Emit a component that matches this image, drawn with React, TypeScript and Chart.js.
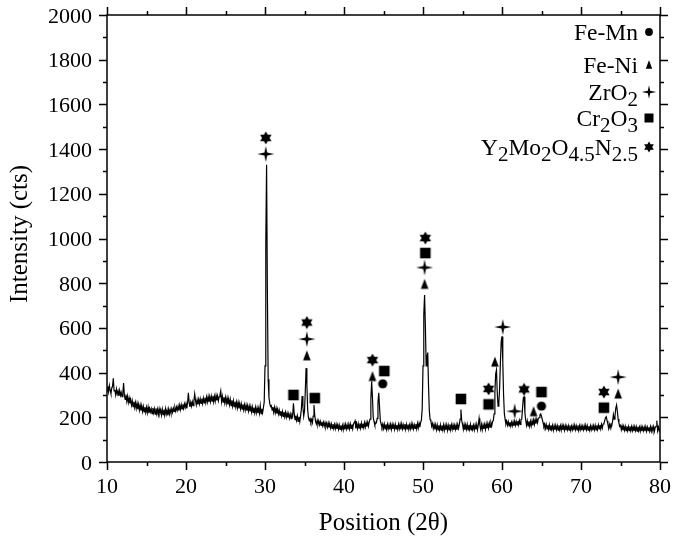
import { useEffect, useRef } from "react";
import { Chart, registerables } from "chart.js";

Chart.register(...registerables);

// XRD scan: 2θ from 10 to 80 in 0.1° steps, intensities (cts)
const scanStart = 10;
const scanStep = 0.1;

const scan10 = [
  318, 338, 314, 342, 322, 306, 330, 340, 375, 318,
  322, 300, 326, 304, 318, 296, 320, 298, 312, 292,
  305, 353, 298, 280, 302, 272, 294, 266, 286, 262,
  280, 254, 274, 248, 270, 244, 266, 240, 262, 236,
  258, 232, 254, 230, 252, 226, 248, 224, 246, 222,
  244, 220, 246, 218, 240, 224, 238, 216, 242, 220,
  238, 214, 240, 216, 236, 212, 238, 218, 234, 210,
  236, 212, 234, 210, 238, 214, 232, 208, 236, 214,
  234, 218, 238, 222, 240, 226, 244, 228, 246, 232,
  250, 230, 254, 234, 256, 238, 258, 240, 260, 244,
];
const scan20 = [
  262, 240, 264, 310, 266, 246, 268, 250, 270, 252,
  274, 305, 276, 256, 278, 258, 280, 260, 282, 262,
  284, 262, 286, 264, 288, 266, 290, 268, 292, 268,
  292, 270, 294, 272, 296, 270, 294, 272, 298, 276,
  296, 274, 292, 300, 318, 270, 294, 268, 290, 264,
  288, 262, 286, 258, 282, 256, 280, 252, 276, 250,
  274, 248, 270, 246, 268, 242, 266, 240, 262, 238,
  260, 236, 258, 234, 256, 232, 254, 230, 252, 228,
  250, 226, 248, 224, 246, 222, 244, 220, 244, 220,
  242, 218, 240, 218, 252, 216, 238, 220, 244, 268,
];
const scan30 = [
  430, 980, 1330, 770, 370, 290, 262, 248, 252, 232,
  246, 222, 244, 220, 240, 216, 236, 214, 232, 210,
  228, 206, 226, 204, 224, 202, 222, 200, 218, 198,
  216, 196, 214, 194, 212, 205, 263, 215, 190, 208,
  186, 206, 182, 202, 180, 205, 235, 295, 245, 205,
  228, 315, 420, 350, 235, 198, 186, 194, 178, 190,
  176, 205, 255, 208, 182, 170, 186, 168, 184, 166,
  182, 164, 180, 162, 178, 160, 176, 158, 174, 156,
  174, 154, 172, 152, 170, 150, 170, 150, 168, 148,
  168, 148, 166, 146, 166, 146, 164, 146, 164, 144,
];
const scan40 = [
  166, 146, 168, 148, 166, 146, 168, 148, 170, 150,
  168, 148, 170, 176, 184, 150, 170, 150, 172, 152,
  172, 152, 174, 154, 172, 154, 176, 156, 176, 158,
  178, 160, 180, 192, 280, 360, 290, 200, 182, 166,
  172, 176, 195, 265, 310, 245, 185, 170, 156, 170,
  150, 170, 148, 168, 146, 168, 148, 166, 146, 168,
  146, 168, 148, 166, 146, 168, 148, 166, 146, 168,
  148, 168, 146, 170, 148, 166, 148, 170, 146, 168,
  148, 168, 146, 166, 148, 170, 146, 168, 148, 166,
  150, 170, 148, 172, 152, 174, 156, 176, 188, 240,
];
const scan50 = [
  430, 660, 747, 610, 430, 470, 490, 340, 230, 190,
  184, 160, 172, 150, 168, 146, 166, 144, 166, 144,
  164, 144, 166, 142, 164, 144, 166, 142, 164, 144,
  166, 142, 164, 144, 168, 144, 166, 146, 166, 144,
  164, 146, 166, 144, 168, 150, 168, 192, 235, 185,
  170, 146, 168, 144, 166, 146, 168, 144, 166, 146,
  168, 144, 166, 146, 164, 144, 166, 146, 168, 144,
  166, 195, 164, 146, 168, 144, 166, 148, 168, 146,
  170, 150, 172, 152, 174, 156, 176, 162, 180, 186,
  215, 310, 395, 412, 310, 250, 265, 330, 450, 540,
];
const scan60 = [
  562, 450, 300, 215, 190, 170, 182, 164, 180, 162,
  178, 160, 178, 162, 180, 162, 182, 164, 182, 166,
  184, 166, 186, 168, 190, 192, 240, 288, 292, 220,
  188, 164, 184, 162, 182, 160, 182, 162, 184, 164,
  188, 168, 190, 172, 192, 176, 196, 198, 210, 215,
  205, 190, 176, 160, 170, 150, 168, 148, 166, 146,
  166, 144, 164, 146, 164, 142, 162, 144, 164, 144,
  162, 142, 164, 144, 162, 142, 164, 144, 162, 142,
  162, 142, 160, 144, 162, 142, 164, 142, 160, 144,
  162, 142, 164, 144, 162, 144, 164, 142, 162, 144,
];
const scan70 = [
  162, 142, 160, 144, 162, 142, 164, 144, 162, 142,
  160, 142, 162, 144, 160, 142, 162, 144, 164, 144,
  164, 146, 166, 148, 166, 148, 168, 152, 170, 172,
  185, 198, 203, 185, 170, 150, 168, 152, 170, 166,
  182, 212, 192, 205, 240, 255, 228, 192, 175, 160,
  164, 144, 162, 142, 160, 142, 160, 140, 160, 140,
  158, 140, 160, 140, 158, 140, 158, 138, 158, 140,
  158, 138, 158, 140, 156, 138, 158, 138, 156, 140,
  156, 138, 158, 138, 156, 140, 156, 138, 158, 138,
  156, 140, 158, 138, 156, 160, 185, 140, 156, 140,
  150,
];

const intensity = [...scan10, ...scan20, ...scan30, ...scan40, ...scan50, ...scan60, ...scan70];
const positions = intensity.map((_, i) => Math.round((scanStart + i * scanStep) * 10) / 10);

// Phase markers placed above the peaks (2θ, intensity)
const feMnMarks = [
  { x: 44.9, y: 350 },
  { x: 65.0, y: 250 },
];
const feNiMarks = [
  { x: 35.3, y: 475 },
  { x: 43.6, y: 382 },
  { x: 50.2, y: 795 },
  { x: 59.1, y: 447 },
  { x: 64.0, y: 225 },
  { x: 74.7, y: 304 },
];
const zrO2Marks = [
  { x: 30.1, y: 1378 },
  { x: 35.3, y: 550 },
  { x: 50.2, y: 870 },
  { x: 60.1, y: 604 },
  { x: 61.6, y: 227 },
  { x: 74.7, y: 380 },
];
const cr2O3Marks = [
  { x: 33.6, y: 300 },
  { x: 36.3, y: 286 },
  { x: 45.1, y: 407 },
  { x: 50.3, y: 935 },
  { x: 54.8, y: 282 },
  { x: 58.3, y: 258 },
  { x: 65.0, y: 313 },
  { x: 72.9, y: 243 },
];
const yMoONMarks = [
  { x: 30.1, y: 1450 },
  { x: 35.3, y: 624 },
  { x: 43.6, y: 456 },
  { x: 50.3, y: 1002 },
  { x: 58.3, y: 327 },
  { x: 62.8, y: 325 },
  { x: 72.9, y: 313 },
];

const xTicks = [10, 20, 30, 40, 50, 60, 70, 80];
const xMinorTicks = [15, 25, 35, 45, 55, 65, 75];
const yTicks = [0, 200, 400, 600, 800, 1000, 1200, 1400, 1600, 1800, 2000];
const yMinorTicks = [100, 300, 500, 700, 900, 1100, 1300, 1500, 1700, 1900];

type Part = { t: string; sub?: boolean };
const legendItems: { parts: Part[]; shape: string }[] = [
  { parts: [{ t: "Fe-Mn" }], shape: "circle" },
  { parts: [{ t: "Fe-Ni" }], shape: "triangle" },
  { parts: [{ t: "ZrO" }, { t: "2", sub: true }], shape: "star4" },
  { parts: [{ t: "Cr" }, { t: "2", sub: true }, { t: "O" }, { t: "3", sub: true }], shape: "square" },
  {
    parts: [
      { t: "Y" }, { t: "2", sub: true }, { t: "Mo" }, { t: "2", sub: true },
      { t: "O" }, { t: "4.5", sub: true }, { t: "N" }, { t: "2.5", sub: true },
    ],
    shape: "star6",
  },
];

const FONT = '"Liberation Serif", "Times New Roman", serif';

function drawShape(ctx: CanvasRenderingContext2D, shape: string, cx: number, cy: number, s: number) {
  ctx.save();
  ctx.fillStyle = "#000";
  ctx.beginPath();
  if (shape === "circle") {
    ctx.arc(cx, cy, 4.6 * s, 0, Math.PI * 2);
  } else if (shape === "triangle") {
    ctx.moveTo(cx, cy - 5.5 * s);
    ctx.lineTo(cx + 3.8 * s, cy + 4.5 * s);
    ctx.lineTo(cx - 3.8 * s, cy + 4.5 * s);
    ctx.closePath();
  } else if (shape === "square") {
    const h = 5.3 * s;
    ctx.rect(cx - h, cy - h, 2 * h, 2 * h);
  } else if (shape === "star4") {
    const rx = 8.5 * s, ry = 8 * s, i = 1.4 * s;
    ctx.moveTo(cx, cy - ry);
    ctx.lineTo(cx + i, cy - i);
    ctx.lineTo(cx + rx, cy);
    ctx.lineTo(cx + i, cy + i);
    ctx.lineTo(cx, cy + ry);
    ctx.lineTo(cx - i, cy + i);
    ctx.lineTo(cx - rx, cy);
    ctx.lineTo(cx - i, cy - i);
    ctx.closePath();
  } else if (shape === "star6") {
    const r = 6.6 * s;
    for (let k = 0; k < 2; k++) {
      const off = k === 0 ? -Math.PI / 2 : Math.PI / 2;
      for (let j = 0; j < 3; j++) {
        const a = off + (j * 2 * Math.PI) / 3;
        const px = cx + r * Math.cos(a);
        const py = cy + r * Math.sin(a);
        if (j === 0) ctx.moveTo(px, py);
        else ctx.lineTo(px, py);
      }
      ctx.closePath();
    }
  }
  ctx.fill("nonzero");
  ctx.restore();
}

function makeMarker(shape: string, s: number): HTMLCanvasElement {
  const c = document.createElement("canvas");
  c.width = 22;
  c.height = 22;
  const ctx = c.getContext("2d")!;
  drawShape(ctx, shape, 11, 11, s);
  return c;
}

const framePlugin = {
  id: "xrdFrame",
  afterDraw(chart: any) {
    const { ctx, chartArea } = chart;
    const { left, right, top, bottom } = chartArea;
    const xs = chart.scales.x;
    const ys = chart.scales.y;
    ctx.save();
    ctx.strokeStyle = "#000";
    ctx.fillStyle = "#000";
    ctx.lineWidth = 1.5;
    ctx.strokeRect(left, top, right - left, bottom - top);

    const major = 8, minor = 4;
    ctx.beginPath();
    for (const v of xTicks) {
      const px = Math.round(xs.getPixelForValue(v)) + 0.5;
      ctx.moveTo(px, bottom); ctx.lineTo(px, bottom + major);
      ctx.moveTo(px, top); ctx.lineTo(px, top - major);
    }
    for (const v of xMinorTicks) {
      const px = Math.round(xs.getPixelForValue(v)) + 0.5;
      ctx.moveTo(px, bottom); ctx.lineTo(px, bottom + minor);
      ctx.moveTo(px, top); ctx.lineTo(px, top - minor);
    }
    for (const v of yTicks) {
      const py = Math.round(ys.getPixelForValue(v)) + 0.5;
      ctx.moveTo(left, py); ctx.lineTo(left - major, py);
      ctx.moveTo(right, py); ctx.lineTo(right + major, py);
    }
    for (const v of yMinorTicks) {
      const py = Math.round(ys.getPixelForValue(v)) + 0.5;
      ctx.moveTo(left, py); ctx.lineTo(left - minor, py);
      ctx.moveTo(right, py); ctx.lineTo(right + minor, py);
    }
    ctx.stroke();

    ctx.font = `22px ${FONT}`;
    ctx.textAlign = "center";
    ctx.textBaseline = "alphabetic";
    for (const v of xTicks) {
      ctx.fillText(String(v), xs.getPixelForValue(v), bottom + 31);
    }
    ctx.textAlign = "right";
    for (const v of yTicks) {
      ctx.fillText(String(v), left - 15, ys.getPixelForValue(v) + 7.5);
    }

    ctx.font = `25px ${FONT}`;
    ctx.textAlign = "center";
    ctx.fillText("Position (2\u03b8)", (left + right) / 2, 530);
    ctx.save();
    ctx.translate(27, 234);
    ctx.rotate(-Math.PI / 2);
    ctx.fillText("Intensity (cts)", 0, 0);
    ctx.restore();

    // legend (top right)
    const rowY = [32, 65, 92, 118, 147];
    const textRight = 638;
    const mainSize = 23.5;
    const subSize = 21;
    legendItems.forEach((item, idx) => {
      let w = 0;
      for (const p of item.parts) {
        ctx.font = `${p.sub ? subSize : mainSize}px ${FONT}`;
        w += ctx.measureText(p.t).width;
      }
      let x = textRight - w;
      const base = rowY[idx] + 8;
      ctx.textAlign = "left";
      for (const p of item.parts) {
        ctx.font = `${p.sub ? subSize : mainSize}px ${FONT}`;
        ctx.fillText(p.t, x, p.sub ? base + 6 : base);
        x += ctx.measureText(p.t).width;
      }
      drawShape(ctx, item.shape, 649, rowY[idx], 0.85);
    });
    ctx.restore();
  },
};

export default function App() {
  const ref = useRef<HTMLCanvasElement | null>(null);
  useEffect(() => {
    if (!ref.current) return;
    const lineData = positions.map((x, i) => ({ x, y: intensity[i] }));
    const scatter = (data: any[], shape: string) => ({
      type: "scatter" as const,
      data,
      pointStyle: makeMarker(shape, 1),
      pointRadius: 8,
      showLine: false,
      borderWidth: 0,
    });
    const chart = new Chart(ref.current, {
      type: "line",
      data: {
        datasets: [
          {
            data: lineData,
            borderColor: "#000",
            borderWidth: 1.2,
            pointRadius: 0,
            tension: 0,
            fill: false,
          },
          scatter(feMnMarks, "circle"),
          scatter(feNiMarks, "triangle"),
          scatter(zrO2Marks, "star4"),
          scatter(cr2O3Marks, "square"),
          scatter(yMoONMarks, "star6"),
        ] as any,
      },
      options: {
        animation: false,
        responsive: false,
        events: [],
        layout: { padding: { left: 107, right: 20, top: 15, bottom: 85 } },
        plugins: { legend: { display: false }, tooltip: { enabled: false } },
        scales: {
          x: { type: "linear", min: 10, max: 80, display: false },
          y: { type: "linear", min: 0, max: 2000, display: false },
        },
      },
      plugins: [framePlugin],
    });
    return () => chart.destroy();
  }, []);
  return (
    <div style={{ position: "absolute", left: 0, top: 0, width: 680, height: 547, background: "#fff" }}>
      <canvas ref={ref} width={680} height={547} style={{ width: 680, height: 547 }} />
    </div>
  );
}
